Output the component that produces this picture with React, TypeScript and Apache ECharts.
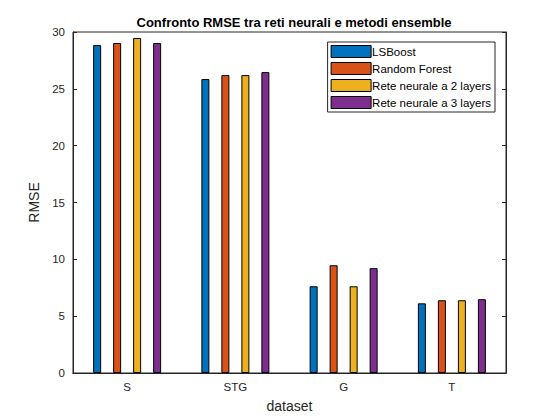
import * as echarts from 'echarts'
import { useEffect, useRef } from 'react'

const categories = ['S', 'STG', 'G', 'T']
const seriesNames = ['LSBoost', 'Random Forest', 'Rete neurale a 2 layers', 'Rete neurale a 3 layers']
const lsboost = [28.85, 25.86, 7.63, 6.13]
const randomForest = [29.03, 26.21, 9.48, 6.4]
const rete2 = [29.47, 26.21, 7.63, 6.4]
const rete3 = [29.03, 26.47, 9.22, 6.49]
const colors = ['#0072BD', '#D95319', '#EDB120', '#7E2F8E']

const App = () => {
  const chartRef = useRef<HTMLDivElement>(null)

  useEffect(() => {
    if (!chartRef.current) return
    const chart = echarts.init(chartRef.current, undefined, { renderer: 'svg' })
    const axisColor = '#262626'
    const values = [lsboost, randomForest, rete2, rete3]

    chart.setOption({
      animation: false,
      textStyle: { fontFamily: 'Liberation Sans, Arial, sans-serif' },
      title: {
        text: 'Confronto RMSE tra reti neurali e metodi ensemble',
        left: 289,
        textAlign: 'center',
        top: 11,
        textStyle: { fontSize: 13, fontWeight: 'bold', color: '#000' },
      },
      legend: {
        orient: 'vertical',
        right: 65,
        top: 42,
        itemWidth: 40,
        itemHeight: 12,
        itemGap: 4,
        padding: [3, 4, 3, 3],
        borderColor: '#262626',
        borderWidth: 1,
        backgroundColor: '#fff',
        icon: 'rect',
        itemStyle: { borderWidth: 1, borderColor: '#000' },
        textStyle: { fontSize: 11.5, color: '#000', padding: [0, 0, 0, -4] },
        data: seriesNames,
      },
      grid: {
        left: 73,
        right: 54,
        top: 32,
        bottom: 47,
        show: true,
        borderColor: axisColor,
        borderWidth: 1,
      },
      xAxis: [
        {
          type: 'category',
          data: categories,
          name: 'dataset',
          nameLocation: 'middle',
          nameGap: 26,
          nameTextStyle: { fontSize: 14, color: axisColor },
          axisLine: { lineStyle: { color: axisColor } },
          axisTick: { inside: true, alignWithLabel: true, length: 4 },
          axisLabel: { fontSize: 11.5, color: axisColor, margin: 8 },
        },
        {
          type: 'category',
          data: categories,
          position: 'top',
          axisLine: { lineStyle: { color: axisColor } },
          axisTick: { inside: true, alignWithLabel: true, length: 4 },
          axisLabel: { show: false },
        },
      ],
      yAxis: [
        {
          type: 'value',
          min: 0,
          max: 30,
          interval: 5,
          name: 'RMSE',
          nameLocation: 'middle',
          nameGap: 30,
          nameTextStyle: { fontSize: 14, color: axisColor },
          axisLine: { show: true, lineStyle: { color: axisColor } },
          axisTick: { show: true, inside: true, length: 4 },
          axisLabel: { fontSize: 11.5, color: axisColor },
          splitLine: { show: false },
        },
        {
          type: 'value',
          min: 0,
          max: 30,
          interval: 5,
          position: 'right',
          axisLine: { show: true, lineStyle: { color: axisColor } },
          axisTick: { show: true, inside: true, length: 4 },
          axisLabel: { show: false },
          splitLine: { show: false },
        },
      ],
      series: seriesNames.map((name, i) => ({
        name,
        type: 'bar',
        data: values[i],
        barWidth: 8,
        barGap: '150%',
        itemStyle: { color: colors[i], borderColor: '#000', borderWidth: 1 },
      })),
    })

    return () => chart.dispose()
  }, [])

  return <div ref={chartRef} style={{ width: 560, height: 420, margin: -8 }} />
}

export default App
